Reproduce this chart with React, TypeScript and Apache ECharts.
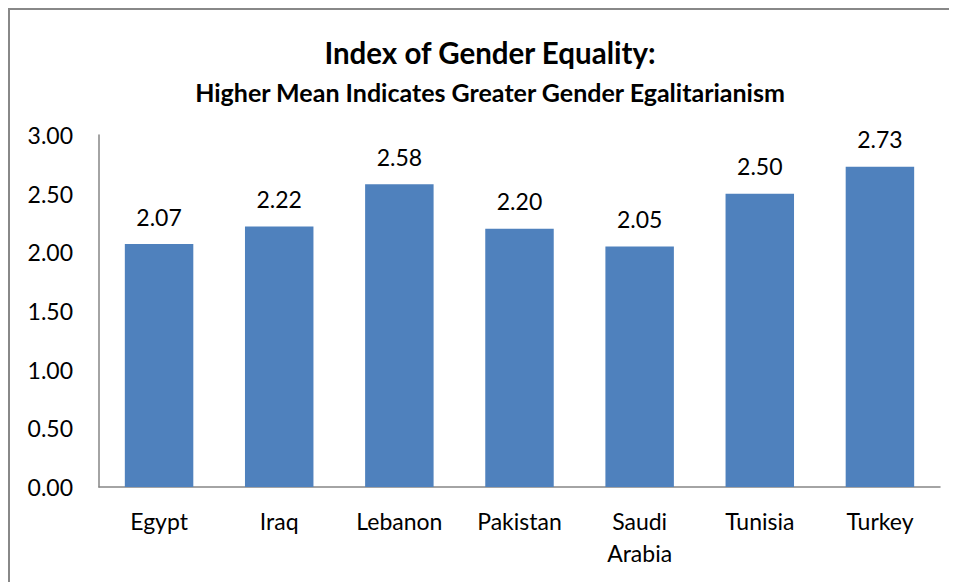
import React, { useEffect, useRef } from "react";
import * as echarts from "echarts";

const categories = ["Egypt", "Iraq", "Lebanon", "Pakistan", "Saudi Arabia", "Tunisia", "Turkey"];
const values = [2.07, 2.22, 2.58, 2.2, 2.05, 2.5, 2.73];
const titleText = "Index of Gender Equality:";
const subtitleText = "Higher Mean Indicates Greater Gender Egalitarianism";

const FONT = "Lato";

export default function App() {
  const ref = useRef<HTMLDivElement>(null);
  useEffect(() => {
    if (!ref.current) return;
    document.documentElement.style.overflow = "hidden";
    const chart = echarts.init(ref.current, undefined, { renderer: "svg" });
    chart.setOption({
      animation: false,
      backgroundColor: "#ffffff",
      title: [
        {
          text: titleText,
          left: 475,
          top: 22,
          textAlign: "center",
          textStyle: { fontFamily: FONT, fontSize: 29.5, fontWeight: "bold", color: "#000" },
        },
        {
          text: subtitleText,
          left: 475,
          top: 64,
          textAlign: "center",
          textStyle: { fontFamily: FONT, fontSize: 25, fontWeight: "bold", color: "#000" },
        },
      ],
      grid: { left: 89, right: 17, top: 125, bottom: 85, containLabel: false },
      xAxis: {
        type: "category",
        data: categories,
        axisLine: { show: true, lineStyle: { color: "#868686", width: 1.5 } },
        axisTick: { show: false },
        axisLabel: {
          interval: 0,
          margin: 18,
          fontFamily: FONT,
          fontSize: 23,
          lineHeight: 32,
          color: "#000",
          formatter: (v: string) => v.replace(" ", "\n"),
        },
      },
      yAxis: {
        type: "value",
        min: 0,
        max: 3,
        interval: 0.5,
        axisLine: { show: true, lineStyle: { color: "#868686", width: 1.5 } },
        axisTick: { show: false },
        splitLine: { show: false },
        axisLabel: {
          margin: 26,
          fontFamily: FONT,
          fontSize: 23,
          color: "#000",
          formatter: (v: number) => v.toFixed(2),
        },
      },
      series: [
        {
          type: "bar",
          data: values,
          barWidth: "57%",
          itemStyle: { color: "#4F81BD" },
          label: {
            show: true,
            position: "top",
            distance: 16,
            fontFamily: FONT,
            fontSize: 23,
            color: "#000",
            formatter: (p: any) => Number(p.value).toFixed(2),
          },
        },
      ],
    });
    return () => chart.dispose();
  }, []);
  return (
    <div
      style={{
        width: 949,
        height: 574,
        boxSizing: "border-box",
        borderLeft: "2px solid #888888",
        borderTop: "2px solid #888888",
        overflow: "hidden",
      }}
    >
      <div ref={ref} style={{ width: 947, height: 562 }} />
    </div>
  );
}
